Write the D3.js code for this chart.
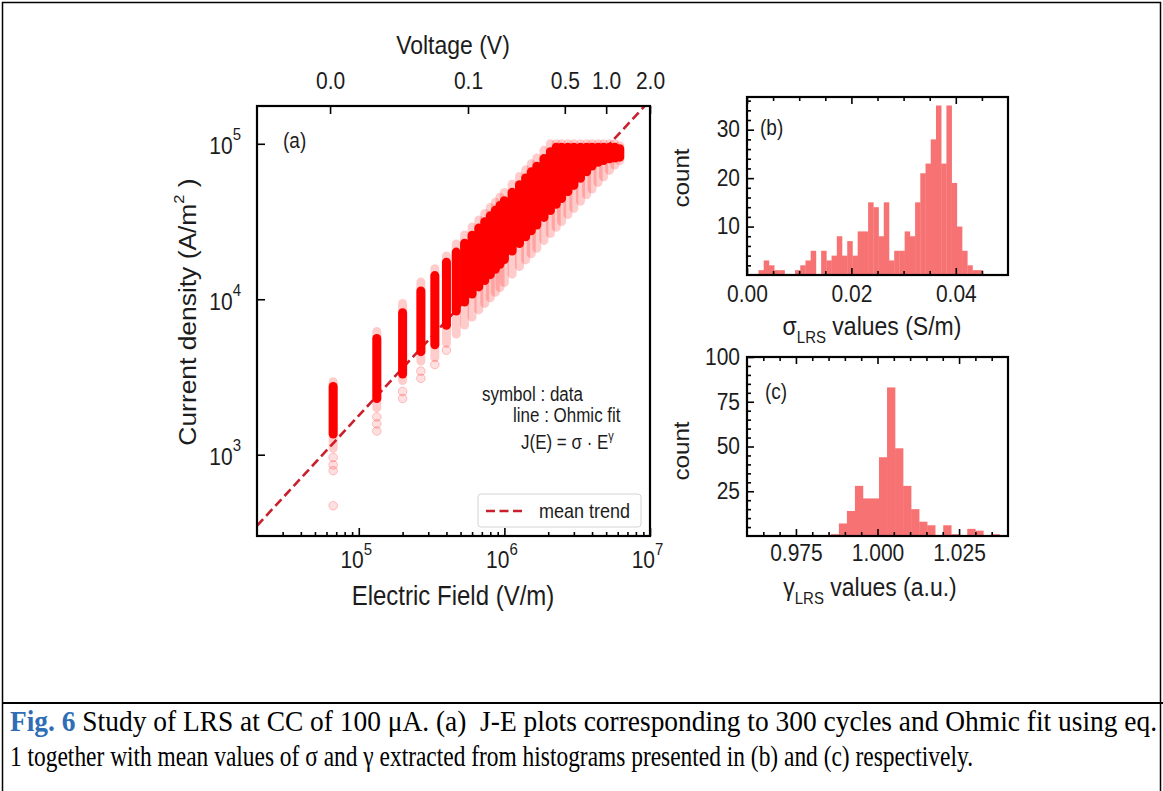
<!DOCTYPE html>
<html>
<meta charset="utf-8">
<style>
  body { margin: 0; background: #fff; }
  svg { display: block; }
  text { font-family: "Liberation Sans", Arial, sans-serif; fill: #1c1c1c; }
  .axis path { display: none; }
  .axis line { stroke: #000; stroke-width: 1.6; }
  .axis text { font-family: "Liberation Sans", Arial, sans-serif; fill: #1c1c1c; }
  .frame { fill: none; stroke: #000; stroke-width: 2.2; }
  .caption text { font-family: "Liberation Serif", "Times New Roman", serif; fill: #000; white-space: pre; }
  /* the source figure is slightly stretched vertically */
  .sy { transform-box: fill-box; transform-origin: 50% 65%; transform: scaleY(1.15); }
  .sx { transform-box: fill-box; transform-origin: 50% 50%; transform: scaleX(1.1); }
</style>

<body>
  <svg width="1163" height="791"></svg>
</body>

<script src="https://d3js.org/d3.v7.min.js"></script>

<script>

// ---- panel (a): J-E scatter, one column of points per field step ----
var fieldE   = [6.67e4, 1.33e5, 2.0e5, 2.67e5, 3.33e5, 4.0e5, 4.67e5, 5.33e5, 6.0e5, 6.67e5, 7.33e5, 8.0e5,
                8.67e5, 9.33e5, 1.0e6, 1.13e6, 1.27e6, 1.4e6, 1.53e6, 1.67e6, 1.87e6, 2.07e6, 2.27e6, 2.47e6,
                2.73e6, 3.0e6, 3.33e6, 3.67e6, 4.0e6, 4.4e6, 4.8e6, 5.27e6, 5.73e6, 6.2e6];
var jPaleMin = [1100, 2000, 3000, 4000, 4200, 5200, 5980, 6820, 7680, 8540, 9380, 1.02e4,
                1.11e4, 1.19e4, 1.28e4, 1.45e4, 1.62e4, 1.79e4, 1.96e4, 2.13e4, 2.39e4, 2.65e4, 2.9e4, 3.16e4,
                3.5e4, 3.84e4, 4.27e4, 4.7e4, 5.12e4, 5.63e4, 6.14e4, 6.74e4, 7.3e4, 7.8e4];
var jCoreLo  = [1360, 2300, 3300, 4600, 5100, 6800, 8400, 9600, 1.08e4, 1.2e4, 1.32e4, 1.44e4,
                1.56e4, 1.68e4, 1.8e4, 2.04e4, 2.28e4, 2.52e4, 2.76e4, 3.0e4, 3.36e4, 3.72e4, 4.08e4, 4.44e4,
                4.92e4, 5.4e4, 6.0e4, 6.6e4, 7.2e4, 7.6e4, 7.8e4, 8.0e4, 8.1e4, 8.2e4];
var jCoreHi  = [2750, 5600, 8200, 1.13e4, 1.42e4, 1.73e4, 2.01e4, 2.29e4, 2.58e4, 2.87e4, 3.15e4, 3.44e4,
                3.73e4, 4.01e4, 4.3e4, 4.87e4, 5.45e4, 6.02e4, 6.6e4, 7.17e4, 8.03e4, 8.9e4, 9.5e4, 9.5e4,
                9.5e4, 9.5e4, 9.5e4, 9.5e4, 9.5e4, 9.5e4, 9.5e4, 9.5e4, 9.5e4, 9.3e4];
var jPaleMax = [2950, 6200, 9400, 1.29e4, 1.57e4, 1.9e4, 2.27e4, 2.59e4, 2.92e4, 3.24e4, 3.56e4, 3.89e4,
                4.21e4, 4.53e4, 4.86e4, 5.5e4, 6.16e4, 6.8e4, 7.45e4, 8.1e4, 9.07e4, 1.0e5, 1.0e5, 1.0e5,
                1.0e5, 1.0e5, 1.0e5, 1.0e5, 1.0e5, 1.0e5, 1.0e5, 1.0e5, 1.0e5, 9.7e4];
// single faint points below the columns
var strayE = [6.67e4, 6.67e4, 6.67e4, 6.67e4, 1.33e5, 1.33e5, 1.33e5, 2.0e5, 2.0e5, 2.67e5, 2.67e5, 3.33e5, 4.0e5];
var strayJ = [960, 860, 790, 470, 1750, 1580, 1420, 2550, 2300, 3450, 3100, 3800, 4700];

// mean trend J = sigma * E^gamma
var fitSigma = 0.0152, fitGamma = 1.014;
var fitE = [2e4, 1e7];

// top axis: voltage ticks (film thickness 200 nm)
var thickness = 2e-7;
var voltTicks = [0.0127, 0.1125, 0.52, 1.0, 2.0];

// ---- panel (b): sigma histogram ----
var sigmaBinStart = 0.0022, sigmaBinWidth = 0.001;
var sigmaCounts = [1, 3, 2, 1, 1, 0, 0, 1, 2, 3, 5, 0, 5, 3, 4, 8, 4, 7, 4, 9, 9, 15,
                   14, 8, 15, 3, 5, 5, 9, 8, 15, 21, 23, 28, 35, 23, 35, 19, 10, 5, 2, 1, 1];

// ---- panel (c): gamma histogram ----
var gammaBinStart = 0.9857, gammaBinWidth = 0.00246;
var gammaCounts = [1, 7, 14, 28, 21, 21, 44, 83, 49, 28, 15, 8, 6, 0, 6, 1, 0, 4, 3, 0, 1];


var svg = d3.select("svg");

function inTicks(g, axis, values, size, fmt, pad) {
  axis.tickValues(values).tickSizeInner(-size).tickSizeOuter(0).tickPadding(pad || 6)
      .tickFormat(fmt || function() { return ""; });
  g.call(axis);
  return g;
}

function powerLabels(g, baseY, baseDy, supDy) {
  g.selectAll(".tick text").each(function(d) {
    var t = d3.select(this);
    var n = Math.round(Math.log10(d));
    t.text("10").attr("dy", baseDy);
    if (baseY !== null) t.attr("y", baseY);
    t.append("tspan").attr("dy", supDy).attr("font-size", "15px").text(n);
  });
}

function vLabel(px, py, size, str) {
  return svg.append("g").attr("transform", "translate(" + px + "," + py + ") rotate(-90)")
    .append("text").attr("class", "sx").attr("text-anchor", "middle").attr("font-size", size).text(str);
}

// ================= panel (a) =================
var A = {left: 257, right: 650, top: 106, bottom: 536};

var x = d3.scaleLog().domain([2e4, 1e7]).range([A.left, A.right]);
var y = d3.scaleLog().domain([300, 1.75e5]).range([A.bottom, A.top]);
var xVolt = d3.scaleLog().domain([2e4 * thickness, 1e7 * thickness]).range([A.left, A.right]);

svg.append("clipPath").attr("id", "clipA").append("rect")
  .attr("x", A.left).attr("y", A.top).attr("width", A.right - A.left).attr("height", A.bottom - A.top);

var plotA = svg.append("g").attr("clip-path", "url(#clipA)");

var fitLine = d3.line()
  .x(function(d) { return x(d); })
  .y(function(d) { return y(fitSigma * Math.pow(d, fitGamma)); });

plotA.append("path").datum(fitE)
  .attr("d", fitLine)
  .attr("fill", "none").attr("stroke", "#c9202e").attr("stroke-width", 2.6)
  .attr("stroke-dasharray", "9,4.5");

var cols = fieldE.map(function(e, i) {
  return {e: e, pmin: jPaleMin[i], lo: jCoreLo[i], hi: jCoreHi[i], pmax: jPaleMax[i]};
});

plotA.selectAll("line.pale").data(cols).enter().append("line")
  .attr("class", "pale")
  .attr("x1", function(d) { return x(d.e); }).attr("x2", function(d) { return x(d.e); })
  .attr("y1", function(d) { return y(d.pmin); }).attr("y2", function(d) { return y(d.pmax); })
  .attr("stroke", "#ff0000").attr("stroke-opacity", 0.2)
  .attr("stroke-width", 9).attr("stroke-linecap", "round");

plotA.selectAll("line.core").data(cols).enter().append("line")
  .attr("class", "core")
  .attr("x1", function(d) { return x(d.e); }).attr("x2", function(d) { return x(d.e); })
  .attr("y1", function(d) { return y(d.lo); }).attr("y2", function(d) { return y(d.hi); })
  .attr("stroke", "#ff0000")
  .attr("stroke-width", 9).attr("stroke-linecap", "round");

plotA.selectAll("circle.stray").data(strayE).enter().append("circle")
  .attr("class", "stray")
  .attr("cx", function(d) { return x(d); })
  .attr("cy", function(d, i) { return y(strayJ[i]); })
  .attr("r", 4.3)
  .attr("fill", "#ff0000").attr("fill-opacity", 0.12)
  .attr("stroke", "#ff0000").attr("stroke-opacity", 0.22);

// axes of (a)
var majorE = [1e5, 1e6, 1e7];
var minorE = x.ticks().filter(function(d) { return majorE.indexOf(d) < 0 && d > 2e4; });

var gxA = svg.append("g").attr("class", "axis").attr("transform", "translate(0," + A.bottom + ")");
inTicks(gxA, d3.axisBottom(x), majorE, 8, function(d) { return d; }, 10);
powerLabels(gxA, 31, "0", "-11");
gxA.selectAll(".tick text").attr("font-size", "21px").attr("x", -3);

svg.append("g").attr("class", "axis").attr("transform", "translate(0," + A.bottom + ")")
  .call(function(g) { inTicks(g, d3.axisBottom(x), minorE, 4); });

var gyA = svg.append("g").attr("class", "axis").attr("transform", "translate(" + A.left + ",0)");
inTicks(gyA, d3.axisLeft(y), [1e3, 1e4, 1e5], 8, function(d) { return d; }, 16);
powerLabels(gyA, null, "9", "-12");
gyA.selectAll(".tick text").attr("font-size", "21px");

var gtA = svg.append("g").attr("class", "axis").attr("transform", "translate(0," + A.top + ")");
inTicks(gtA, d3.axisTop(xVolt), voltTicks, 8, d3.format(".1f"), 18);
gtA.selectAll(".tick text").attr("font-size", "21px");

svg.append("rect").attr("class", "frame")
  .attr("x", A.left).attr("y", A.top).attr("width", A.right - A.left).attr("height", A.bottom - A.top);

// labels of (a)
svg.append("text").attr("x", 453).attr("y", 53).attr("text-anchor", "middle")
  .attr("font-size", "23px").text("Voltage (V)");
svg.append("text").attr("x", 453).attr("y", 604).attr("text-anchor", "middle")
  .attr("font-size", "24px").text("Electric Field (V/m)");

var yl = vLabel(196, 312, "24px", null);
yl.append("tspan").text("Current density (A/m");
yl.append("tspan").attr("font-size", "15px").attr("dy", "-12").text("2");
yl.append("tspan").attr("dy", "12").text(" )");

svg.append("text").attr("x", 283).attr("y", 147).attr("font-size", "19px").text("(a)");

svg.append("text").attr("x", 482).attr("y", 401).attr("font-size", "17px").text("symbol : data");
svg.append("text").attr("x", 513).attr("y", 422).attr("font-size", "17px").text("line : Ohmic fit");
var eq = svg.append("text").attr("x", 521).attr("y", 448).attr("font-size", "17px");
eq.append("tspan").text("J(E) = σ · E");
eq.append("tspan").attr("font-size", "11px").attr("dy", "-7").text("γ");

// legend
svg.append("rect").attr("x", 478).attr("y", 494).attr("width", 163).attr("height", 33)
  .attr("rx", 3).attr("fill", "#fff").attr("fill-opacity", 0.85)
  .attr("stroke", "#d4d4d4").attr("stroke-width", 1);
svg.append("line").attr("x1", 486).attr("x2", 523).attr("y1", 511).attr("y2", 511)
  .attr("stroke", "#c9202e").attr("stroke-width", 2.6).attr("stroke-dasharray", "9,4.5");
svg.append("text").attr("x", 539).attr("y", 517).attr("font-size", "18px").text("mean trend");

// ================= histograms =================
function histogram(box, xDomain, yDomain, start, width, counts, xMajor, xMinor, yMajor, yMinor, xFmt, xPad) {
  var hx = d3.scaleLinear().domain(xDomain).range([box.left, box.right]);
  var hy = d3.scaleLinear().domain(yDomain).range([box.bottom, box.top]);

  var bins = counts.map(function(c, i) { return {x0: start + i * width, x1: start + (i + 1) * width, n: c}; })
    .filter(function(b) { return b.n > 0; });

  svg.append("g").selectAll("rect").data(bins).enter().append("rect")
    .attr("x", function(b) { return hx(b.x0); })
    .attr("width", function(b) { return hx(b.x1) - hx(b.x0) + 0.3; })
    .attr("y", function(b) { return hy(b.n); })
    .attr("height", function(b) { return hy(0) - hy(b.n); })
    .attr("fill", "#f77373");

  var gb = svg.append("g").attr("class", "axis").attr("transform", "translate(0," + box.bottom + ")");
  inTicks(gb, d3.axisBottom(hx), xMajor, 7, xFmt, xPad);
  gb.selectAll(".tick text").attr("font-size", "21px");
  svg.append("g").attr("class", "axis").attr("transform", "translate(0," + box.bottom + ")")
    .call(function(g) { inTicks(g, d3.axisBottom(hx), xMinor, 4); });
  svg.append("g").attr("class", "axis").attr("transform", "translate(0," + box.top + ")")
    .call(function(g) { inTicks(g, d3.axisTop(hx), xMajor, 7); });
  svg.append("g").attr("class", "axis").attr("transform", "translate(0," + box.top + ")")
    .call(function(g) { inTicks(g, d3.axisTop(hx), xMinor, 4); });

  var gl = svg.append("g").attr("class", "axis").attr("transform", "translate(" + box.left + ",0)");
  inTicks(gl, d3.axisLeft(hy), yMajor, 7, d3.format("d"), 7);
  gl.selectAll(".tick text").attr("font-size", "21px");
  svg.append("g").attr("class", "axis").attr("transform", "translate(" + box.left + ",0)")
    .call(function(g) { inTicks(g, d3.axisLeft(hy), yMinor, 4); });

  svg.append("rect").attr("class", "frame")
    .attr("x", box.left).attr("y", box.top).attr("width", box.right - box.left).attr("height", box.bottom - box.top);
}

var B = {left: 747, right: 1008, top: 97, bottom: 275};
histogram(B, [0, 0.05], [0, 36.75], sigmaBinStart, sigmaBinWidth, sigmaCounts,
  [0, 0.02, 0.04], [0.005, 0.01, 0.015, 0.025, 0.03, 0.035, 0.045],
  [10, 20, 30], [2, 4, 6, 8, 12, 14, 16, 18, 22, 24, 26, 28, 32, 34, 36],
  d3.format(".2f"), 12);

var C = {left: 747, right: 1008, top: 357, bottom: 536};
histogram(C, [0.96, 1.04], [0, 100], gammaBinStart, gammaBinWidth, gammaCounts,
  [0.975, 1.0, 1.025], [0.965, 0.97, 0.98, 0.985, 0.99, 0.995, 1.005, 1.01, 1.015, 1.02, 1.03, 1.035],
  [25, 50, 75, 100], [5, 10, 15, 20, 30, 35, 40, 45, 55, 60, 65, 70, 80, 85, 90, 95],
  d3.format(".3f"), 10);

svg.append("text").attr("x", 760).attr("y", 134).attr("font-size", "19px").text("(b)");
svg.append("text").attr("x", 765).attr("y", 398).attr("font-size", "19px").text("(c)");

vLabel(689, 178, "22px", "count");
vLabel(689, 451, "22px", "count");

var xb = svg.append("text").attr("x", 872).attr("y", 335).attr("text-anchor", "middle").attr("font-size", "23px");
xb.append("tspan").text("σ");
xb.append("tspan").attr("font-size", "15px").attr("dy", "7").text("LRS");
xb.append("tspan").attr("dy", "-7").text(" values (S/m)");

var xc = svg.append("text").attr("x", 870).attr("y", 596).attr("text-anchor", "middle").attr("font-size", "23px");
xc.append("tspan").text("γ");
xc.append("tspan").attr("font-size", "15px").attr("dy", "7").text("LRS");
xc.append("tspan").attr("dy", "-7").text(" values (a.u.)");

// ================= figure box and caption =================
svg.append("rect").attr("x", 2.5).attr("y", 2.5).attr("width", 1158).attr("height", 800)
  .attr("fill", "none").attr("stroke", "#000").attr("stroke-width", 1.5);
svg.append("line").attr("x1", 2).attr("x2", 1163).attr("y1", 703).attr("y2", 703)
  .attr("stroke", "#000").attr("stroke-width", 2);

var cap = svg.append("g").attr("class", "caption");
var c1 = cap.append("text").attr("x", 10).attr("y", 730).attr("font-size", "25px")
  .attr("textLength", 1147).attr("lengthAdjust", "spacingAndGlyphs");
c1.append("tspan").attr("fill", "#2f6db5").attr("font-weight", "bold").text("Fig. 6");
c1.append("tspan").text(" Study of LRS at CC of 100 μA. (a)  J-E plots corresponding to 300 cycles and Ohmic fit using eq.");
cap.append("text").attr("x", 10).attr("y", 765).attr("font-size", "25px")
  .attr("textLength", 963).attr("lengthAdjust", "spacingAndGlyphs")
  .text("1 together with mean values of σ and γ extracted from histograms presented in (b) and (c) respectively.");

// stretch every upright label like the source figure
svg.selectAll("text").filter(function() { return !this.classList.contains("sx"); }).classed("sy", true);

</script>

</html>
